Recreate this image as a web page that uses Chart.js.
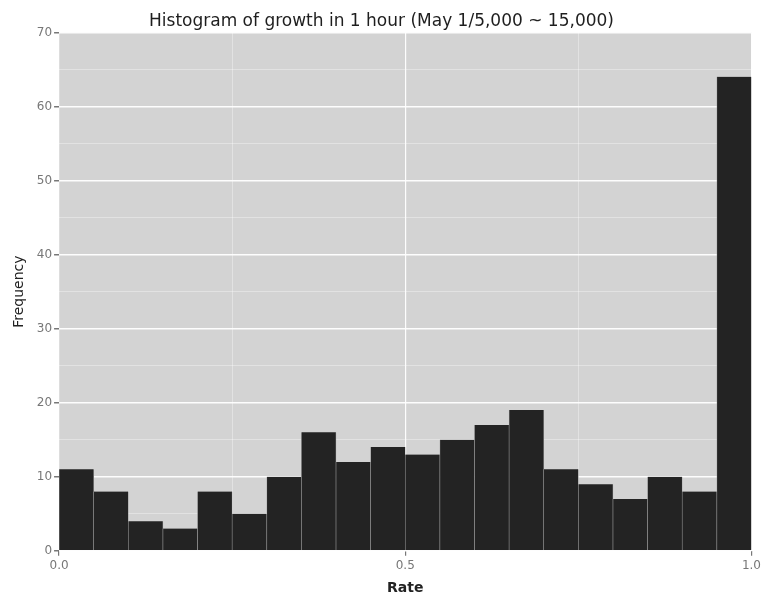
<!DOCTYPE html>
<html>
<head>
<meta charset="utf-8">
<script src="https://cdn.jsdelivr.net/npm/chart.js@4/dist/chart.umd.min.js"></script>
<style>
  html, body { margin: 0; padding: 0; background: #fff; }
  #wrap { width: 764px; height: 597px; }
</style>
</head>
<body>
<div id="wrap"><canvas id="histChart" width="764" height="597"></canvas></div>
<script>
// Histogram data: 20 bins of width 0.05 over [0, 1]
const binCenters = [0.025, 0.075, 0.125, 0.175, 0.225, 0.275, 0.325, 0.375, 0.425, 0.475,
                    0.525, 0.575, 0.625, 0.675, 0.725, 0.775, 0.825, 0.875, 0.925, 0.975];
const frequencies = [11, 8, 4, 3, 8, 5, 10, 16, 12, 14,
                     13, 15, 17, 19, 11, 9, 7, 10, 8, 64];
const xTickLabels = ['0.0', '0.5', '1.0'];   // labelled at 0, 0.5, 1
const yTickLabels = [0, 10, 20, 30, 40, 50, 60, 70];

const chartTitle = 'Histogram of growth in 1 hour (May 1/5,000 ~ 15,000)';
const fontFamily = "'DejaVu Sans', sans-serif";

// Paint the grey plot background under everything
const plotBackground = {
    id: 'plotBackground',
    beforeDraw(chart) {
        const { ctx, chartArea } = chart;
        ctx.save();
        ctx.fillStyle = '#d3d3d3';
        ctx.fillRect(chartArea.left, chartArea.top,
                     chartArea.right - chartArea.left, chartArea.bottom - chartArea.top);
        ctx.restore();
    }
};

const isMajorX = v => Math.abs(v * 2 - Math.round(v * 2)) < 1e-6;
const isMajorY = v => v % 10 === 0;
const tickVal = c => (c && c.tick) ? c.tick.value : 0;

const canvasCtx = document.getElementById('histChart').getContext('2d');
new Chart(canvasCtx, {
    type: 'bar',
    data: {
        datasets: [{
            label: 'Frequency',
            data: binCenters.map((x, i) => ({ x: x, y: frequencies[i] })),
            backgroundColor: '#232323',
            borderColor: '#9a9a9a',
            borderWidth: { left: 0.6, right: 0.6, top: 0, bottom: 0 },
            borderSkipped: false,
            barPercentage: 1,
            categoryPercentage: 1
        }]
    },
    plugins: [plotBackground],
    options: {
        responsive: false,
        animation: false,
        layout: { padding: { top: 0, left: 11, right: 12, bottom: 0 } },
        plugins: {
            legend: { display: false },
            tooltip: { enabled: false },
            title: {
                display: true,
                text: chartTitle,
                color: '#1e1e1e',
                font: { family: fontFamily, size: 17, weight: 'normal' },
                padding: { top: 11, bottom: 1 }
            }
        },
        scales: {
            x: {
                type: 'linear',
                offset: false,
                min: 0,
                max: 1,
                border: { display: false },
                grid: {
                    offset: false,
                    color: c => isMajorX(tickVal(c)) ? 'rgba(255,255,255,0.95)' : 'rgba(255,255,255,0.45)',
                    lineWidth: c => isMajorX(tickVal(c)) ? 1.2 : 0.8,
                    tickColor: c => isMajorX(tickVal(c)) ? '#777' : 'rgba(0,0,0,0)',
                    tickLength: 5
                },
                ticks: {
                    stepSize: 0.25,
                    autoSkip: false,
                    maxRotation: 0,
                    padding: 3,
                    color: '#777',
                    font: { family: fontFamily, size: 12 },
                    callback: v => isMajorX(v) ? xTickLabels[Math.round(v * 2)] : ''
                },
                title: {
                    display: true,
                    text: 'Rate',
                    color: '#222',
                    font: { family: fontFamily, size: 14, weight: '600' },
                    padding: { top: 4, bottom: 0 }
                }
            },
            y: {
                min: 0,
                max: 70,
                border: { display: false },
                grid: {
                    color: c => isMajorY(tickVal(c)) ? 'rgba(255,255,255,0.95)' : 'rgba(255,255,255,0.45)',
                    lineWidth: c => isMajorY(tickVal(c)) ? 1.5 : 0.8,
                    tickColor: c => isMajorY(tickVal(c)) ? '#777' : 'rgba(0,0,0,0)',
                    tickLength: 5
                },
                ticks: {
                    stepSize: 5,
                    autoSkip: false,
                    padding: 2,
                    color: '#777',
                    font: { family: fontFamily, size: 12 },
                    callback: v => yTickLabels.includes(v) ? String(v) : ''
                },
                title: {
                    display: true,
                    text: 'Frequency',
                    color: '#222',
                    font: { family: fontFamily, size: 14, weight: 'normal' },
                    padding: { top: 0, bottom: 7 }
                }
            }
        }
    }
});
</script>
</body>
</html>
